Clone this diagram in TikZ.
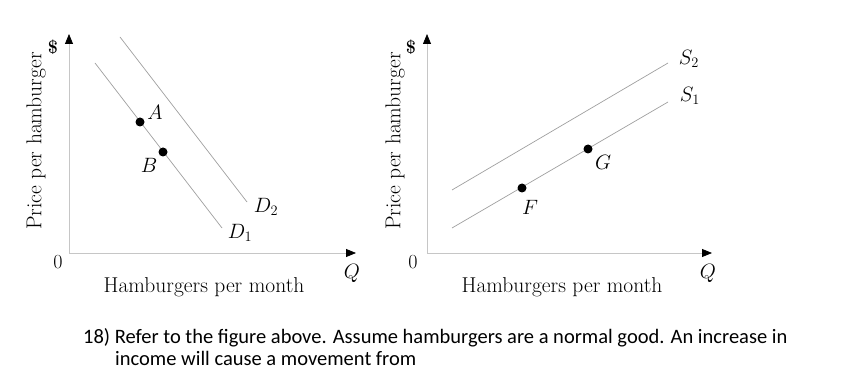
\documentclass[tikz,border=0pt]{standalone}
\usepackage{fontspec}
\newfontfamily\qfont{Carlito}
\usetikzlibrary{arrows.meta}

\begin{document}
\begin{tikzpicture}[x=1pt,y=-1pt,
  axis/.style={draw=gray!45,line width=0.8pt,-{Triangle[length=10pt,width=8pt,color=black]}},
  curve/.style={draw=gray!75,line width=0.7pt},
  dot/.style={circle,fill=black,inner sep=0pt,minimum size=9pt},
  lbl/.style={font=\fontsize{20}{24}\selectfont,inner sep=0pt},
  axlbl/.style={font=\fontsize{21.5}{24}\selectfont,inner sep=0pt},
  usd/.style={font=\fontsize{18}{20}\selectfont\bfseries,inner sep=0pt}]

\useasboundingbox (0,0) rectangle (845,371);

% left: demand
\coordinate (O1) at (69,253);
\coordinate (Y1) at (69,34);
\coordinate (X1) at (356,253);
\draw[axis] (O1)--(Y1);
\draw[axis] (O1)--(X1);
\node[lbl] (zero1) at (58,262) {0};
\node[lbl] (q1) at (352,273) {$Q$};
\node[usd] (usd1) at (53,47) {\$};
\node[axlbl,rotate=90] (py1) at (36,141) {Price per hamburger};
\node[axlbl] (px1) at (204,287) {Hamburgers per month};

\coordinate (D1a) at (95,63);
\coordinate (D1b) at (222,228);
\coordinate (D2a) at (120,37);
\coordinate (D2b) at (247,202);
\draw[curve] (D1a)--(D1b);
\draw[curve] (D2a)--(D2b);
\node[lbl] (d1) at (240,233) {$D_1$};
\node[lbl] (d2) at (266,207) {$D_2$};

\node[dot] (A) at (140,122) {};
\node[dot] (B) at (163,152) {};
\node[lbl] (a) at (155,112) {$A$};
\node[lbl] (b) at (149,165) {$B$};

% right: supply
\coordinate (O2) at (427,253);
\coordinate (Y2) at (427,34);
\coordinate (X2) at (712,253);
\draw[axis] (O2)--(Y2);
\draw[axis] (O2)--(X2);
\node[lbl] (zero2) at (413,262) {0};
\node[lbl] (q2) at (708,273) {$Q$};
\node[usd] (usd2) at (411,47) {\$};
\node[axlbl,rotate=90] (py2) at (395,141) {Price per hamburger};
\node[axlbl] (px2) at (562,287) {Hamburgers per month};

\coordinate (S1a) at (452,228);
\coordinate (S1b) at (668,102);
\coordinate (S2a) at (452,190);
\coordinate (S2b) at (668,63);
\draw[curve] (S1a)--(S1b);
\draw[curve] (S2a)--(S2b);
\node[lbl] (s1) at (690,96) {$S_1$};
\node[lbl] (s2) at (689,59) {$S_2$};

\node[dot] (F) at (522,188) {};
\node[dot] (G) at (588,149) {};
\node[lbl] (f) at (530,207) {$F$};
\node[lbl] (g) at (603,162) {$G$};

% question
\node[anchor=base west,inner sep=0pt,font=\qfont\fontsize{20.5}{22}\selectfont] (text1) at (83,343)
  {18) Refer to the figure above. Assume hamburgers are a normal good. An increase in};
\node[anchor=base west,inner sep=0pt,font=\qfont\fontsize{20.5}{22}\selectfont] (text2) at (115,365)
  {income will cause a movement from};

\end{tikzpicture}
\end{document}
